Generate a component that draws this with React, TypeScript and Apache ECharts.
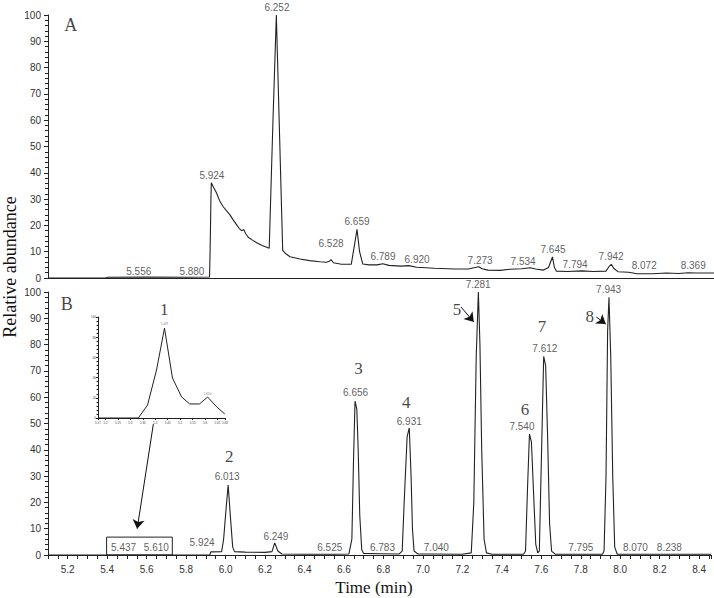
import React, { useEffect, useRef } from 'react';
import * as echarts from 'echarts';

// Panel A (total ion chromatogram): retention time (min) and relative abundance (%)
const aTimes = [5.10, 5.39, 5.40, 5.60, 5.80, 5.915, 5.918, 5.922, 5.924, 5.935, 5.951, 5.965, 5.984, 6.0, 6.018, 6.035, 6.052, 6.065, 6.077, 6.088, 6.096, 6.110, 6.13, 6.153, 6.18, 6.20, 6.216, 6.218, 6.235, 6.252, 6.268, 6.284, 6.30, 6.321, 6.371, 6.42, 6.47, 6.505, 6.52, 6.528, 6.54, 6.58, 6.63, 6.645, 6.659, 6.672, 6.688, 6.72, 6.76, 6.789, 6.82, 6.88, 6.92, 6.96, 7.05, 7.15, 7.22, 7.255, 7.273, 7.29, 7.32, 7.38, 7.43, 7.49, 7.534, 7.56, 7.60, 7.625, 7.645, 7.655, 7.665, 7.72, 7.794, 7.85, 7.915, 7.93, 7.942, 7.955, 7.975, 8.03, 8.072, 8.15, 8.22, 8.28, 8.33, 8.369, 8.46];
const aValues = [0, 0, 0.3, 0.4, 0.3, 0.4, 11, 30, 36.2, 34.5, 32.2, 29.5, 27.1, 25.6, 24, 22, 20.2, 18.8, 18, 18.4, 17, 15.5, 14.5, 13.4, 12.4, 11.8, 11.3, 11.2, 60, 100, 55, 10.5, 9.2, 8.1, 7.2, 6.6, 6.2, 6.0, 6.4, 7.0, 5.8, 5.2, 5.2, 12, 18.5, 10, 5.3, 5.0, 5.0, 5.4, 4.8, 4.5, 4.7, 4.1, 3.7, 3.4, 3.4, 4.0, 4.3, 3.5, 3.0, 2.9, 3.3, 3.5, 3.9, 3.4, 3.0, 4.0, 8.0, 4.0, 2.6, 2.5, 2.7, 2.5, 2.6, 4.3, 5.2, 3.6, 2.4, 2.2, 1.6, 1.6, 1.9, 1.7, 2.0, 1.9, 1.9];

// Panel B (extracted chromatogram)
const bTimes = [5.10, 5.92, 5.925, 5.98, 5.99, 6.003, 6.013, 6.025, 6.036, 6.045, 6.10, 6.20, 6.235, 6.249, 6.265, 6.285, 6.40, 6.55, 6.625, 6.64, 6.648, 6.656, 6.665, 6.672, 6.68, 6.69, 6.70, 6.783, 6.88, 6.895, 6.905, 6.92, 6.931, 6.94, 6.947, 6.955, 6.975, 7.04, 7.20, 7.245, 7.258, 7.27, 7.281, 7.289, 7.298, 7.31, 7.322, 7.35, 7.51, 7.52, 7.53, 7.54, 7.55, 7.56, 7.572, 7.582, 7.59, 7.60, 7.612, 7.622, 7.632, 7.642, 7.652, 7.67, 7.795, 7.91, 7.918, 7.928, 7.936, 7.943, 7.952, 7.962, 7.972, 7.985, 8.07, 8.238, 8.46];
const bValues = [0, 0, 1.2, 1.3, 6, 18, 26.6, 14, 3, 1.3, 1.1, 1.0, 1.3, 4.6, 1.5, 0.4, 0.3, 0.3, 0.4, 6, 35, 58.5, 55.5, 40, 15, 2, 0.6, 0.5, 0.4, 1.5, 20, 45, 48.3, 30, 10, 1.5, 0.4, 0.4, 0.3, 0.8, 20, 75, 100, 80, 40, 6, 0.8, 0.3, 0.3, 1.5, 25, 46, 43, 25, 4, 0.8, 1.5, 35, 75.5, 72, 45, 12, 1.5, 0.3, 0.3, 0.3, 1.5, 30, 85, 98, 75, 30, 3, 0.3, 0.3, 0.3, 0.3];

// Inset (zoom of peak 1)
const insetTimes = [5.17, 5.332, 5.369, 5.405, 5.437, 5.469, 5.506, 5.538, 5.578, 5.610, 5.647, 5.679];
const insetValues = [0, 0, 12.9, 47.5, 89, 39.6, 20.8, 13.9, 13.9, 20.8, 10.9, 4];

// Peak annotation texts with their anchor (time, abundance)
const aLabels = ['5.556', '5.880', '5.924', '6.252', '6.528', '6.659', '6.789', '6.920', '7.273', '7.534', '7.645', '7.794', '7.942', '8.072', '8.369'];
const aLabelT = [5.558, 5.826, 5.927, 6.255, 6.528, 6.659, 6.790, 6.962, 7.280, 7.497, 7.648, 7.759, 7.941, 8.108, 8.355];
const aLabelY = [2.3, 2.3, 38.8, 102.7, 13.3, 21.3, 8.0, 7.2, 6.5, 6.1, 11.0, 5.3, 8.0, 4.6, 4.6];

const bLabels = ['5.437', '5.610', '5.924', '6.013', '6.249', '6.525', '6.656', '6.783', '6.931', '7.040', '7.281', '7.540', '7.612', '7.795', '7.943', '8.070', '8.238'];
const bLabelT = [5.483, 5.649, 5.881, 6.008, 6.255, 6.528, 6.659, 6.795, 6.931, 7.068, 7.280, 7.502, 7.618, 7.800, 7.941, 8.077, 8.249];
const bLabelY = [3.0, 3.0, 4.6, 29.7, 7.2, 3.0, 61.6, 3.0, 50.6, 3.0, 102.7, 48.7, 78.7, 3.0, 100.8, 3.0, 3.0];

const compounds = ['1', '2', '3', '4', '5', '6', '7', '8'];
const compoundT = [5.689, 6.018, 6.674, 6.916, 7.173, 7.517, 7.603, 7.846];
const compoundY = [93.2, 37.3, 71.1, 57.8, 93.5, 55.5, 86.7, 90.5];

const insetLabels = ['5.437', '5.610'];
const insetLabelT = [5.437, 5.610];
const insetLabelY = [93, 24];

const SANS = 'Liberation Sans, Arial, sans-serif';
const SERIF = 'Liberation Serif, Times New Roman, serif';
const INK = '#222';

const zip = (t: number[], v: number[]) => t.map((x, i) => [x, v[i]]);
const zip3 = (t: number[], v: number[], s: string[]) => t.map((x, i) => [x, v[i], s[i]]);

export default function App() {
  const ref = useRef<HTMLDivElement>(null);
  useEffect(() => {
    if (!ref.current) return;
    const chart = echarts.init(ref.current, null, { renderer: 'svg' });

    const mainX = (gi: number, showLabels: boolean) => ({
      gridIndex: gi,
      type: 'value',
      min: 5.1,
      max: 8.46,
      interval: 0.05,
      axisLine: { show: true, onZero: false, lineStyle: { color: INK, width: 1 } },
      axisTick: { show: showLabels, length: 4, lineStyle: { color: INK } },
      axisLabel: {
        show: showLabels,
        fontSize: 10,
        fontFamily: SANS,
        color: '#333',
        margin: 9,
        formatter: (v: number) => (Math.abs(v * 5 - Math.round(v * 5)) < 1e-6 ? v.toFixed(1) : ''),
      },
      splitLine: { show: false },
    });
    const mainY = (gi: number) => ({
      gridIndex: gi,
      type: 'value',
      min: 0,
      max: 100,
      interval: 10,
      axisLine: { show: true, lineStyle: { color: INK, width: 1 } },
      axisTick: { show: true, length: 4, lineStyle: { color: INK } },
      minorTick: { show: true, splitNumber: 5, length: 3, lineStyle: { color: INK } },
      axisLabel: { fontSize: 10, fontFamily: SANS, color: '#333', margin: 7 },
      splitLine: { show: false },
    });

    const labelSeries = (gi: number, data: any[], fontSize: number, family: string, color: string) => ({
      type: 'scatter',
      xAxisIndex: gi,
      yAxisIndex: gi,
      data,
      symbolSize: 0,
      clip: false,
      silent: true,
      z: 5,
      label: {
        show: true,
        position: 'inside',
        formatter: (p: any) => p.data[2],
        fontSize,
        fontFamily: family,
        color,
      },
    });

    chart.setOption({
      animation: false,
      backgroundColor: '#fff',
      grid: [
        { left: 48, top: 15, width: 666, height: 263 },
        { left: 48, top: 292, width: 666, height: 263 },
        { left: 98, top: 317, width: 127, height: 101 },
      ],
      xAxis: [
        mainX(0, false),
        mainX(1, true),
        {
          gridIndex: 2,
          type: 'value',
          min: 5.17,
          max: 5.68,
          splitNumber: 8,
          axisLine: { show: true, onZero: false, lineStyle: { color: INK } },
          axisTick: { show: true, length: 2, lineStyle: { color: INK } },
          axisLabel: { fontSize: 3, color: '#444', margin: 3, fontFamily: SANS },
          splitLine: { show: false },
        },
      ],
      yAxis: [
        mainY(0),
        mainY(1),
        {
          gridIndex: 2,
          type: 'value',
          min: 0,
          max: 100,
          interval: 20,
          axisLine: { show: true, lineStyle: { color: INK } },
          axisTick: { show: true, length: 2, lineStyle: { color: INK } },
          minorTick: { show: true, splitNumber: 5, length: 1.5, lineStyle: { color: INK } },
          axisLabel: { fontSize: 3, color: '#444', margin: 2, fontFamily: SANS },
          splitLine: { show: false },
        },
      ],
      series: [
        {
          type: 'line',
          xAxisIndex: 0,
          yAxisIndex: 0,
          data: zip(aTimes, aValues),
          showSymbol: false,
          silent: true,
          lineStyle: { color: INK, width: 1.1 },
        },
        {
          type: 'line',
          xAxisIndex: 1,
          yAxisIndex: 1,
          data: zip(bTimes, bValues),
          showSymbol: false,
          silent: true,
          lineStyle: { color: INK, width: 1.1 },
          markArea: {
            silent: true,
            label: { show: false },
            itemStyle: { color: 'rgba(0,0,0,0)', borderColor: INK, borderWidth: 1 },
            data: [[{ coord: [5.397, 0] }, { coord: [5.73, 6.8] }]],
          },
          markLine: {
            silent: true,
            symbol: ['none', 'arrow'],
            symbolSize: 9,
            label: { show: false },
            lineStyle: { color: '#111', width: 1, type: 'solid' },
            data: [
              [{ coord: [5.634, 49.8] }, { coord: [5.552, 10.0] }],
              [{ coord: [7.193, 94.3] }, { coord: [7.258, 88.6] }],
              [{ coord: [7.879, 90.5] }, { coord: [7.927, 87.8] }],
            ],
          },
        },
        {
          type: 'line',
          xAxisIndex: 2,
          yAxisIndex: 2,
          data: zip(insetTimes, insetValues),
          showSymbol: false,
          silent: true,
          lineStyle: { color: INK, width: 1 },
        },
        labelSeries(0, zip3(aLabelT, aLabelY, aLabels), 10, SANS, '#333'),
        labelSeries(1, zip3(bLabelT, bLabelY, bLabels), 10, SANS, '#333'),
        labelSeries(1, zip3(compoundT, compoundY, compounds), 17, SERIF, '#111'),
        labelSeries(0, [[5.215, 96.2, 'A']], 18, SERIF, '#111'),
        labelSeries(1, [[5.195, 95.6, 'B']], 18, SERIF, '#111'),
        labelSeries(2, zip3(insetLabelT, insetLabelY, insetLabels), 3, SANS, '#444'),
      ],
      graphic: [
        {
          type: 'text',
          x: 10,
          y: 267,
          rotation: Math.PI / 2,
          style: {
            text: 'Relative abundance',
            fontSize: 18,
            fontFamily: SERIF,
            fill: '#111',
            textAlign: 'center',
            textVerticalAlign: 'middle',
          },
        },
        {
          type: 'text',
          x: 374,
          y: 587,
          style: {
            text: 'Time (min)',
            fontSize: 17,
            fontFamily: SERIF,
            fill: '#111',
            textAlign: 'center',
            textVerticalAlign: 'middle',
          },
        },
      ],
    });
    return () => chart.dispose();
  }, []);
  return (
    <div
      ref={ref}
      style={{ position: 'fixed', left: 0, top: 0, width: 714, height: 598, background: '#fff' }}
    />
  );
}
